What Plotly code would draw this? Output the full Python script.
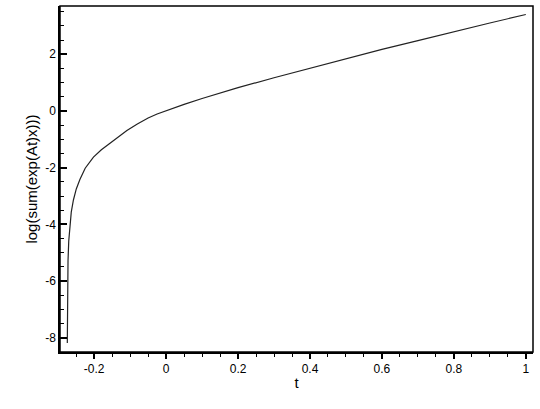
"""Line chart of log(sum(exp(At)x)) against t."""

import plotly.graph_objects as go

t_values = [
    -0.2747, -0.2745, -0.2742, -0.2737, -0.2727, -0.2707, -0.2677, -0.2637,
    -0.2577, -0.2497, -0.2397, -0.225, -0.202, -0.18, -0.156, -0.13, -0.109,
    -0.08, -0.05, -0.025, 0.0, 0.05, 0.1, 0.15, 0.2, 0.3, 0.4, 0.5, 0.6, 0.7,
    0.8, 0.9, 1.0,
]
log_values = [
    -8.18, -7.58, -6.66, -5.97, -5.28, -4.59, -4.03, -3.57,
    -3.14, -2.75, -2.42, -2.02, -1.63, -1.37, -1.14, -0.90, -0.69,
    -0.46, -0.25, -0.11, 0.01, 0.23, 0.44, 0.63, 0.82, 1.17, 1.51, 1.84, 2.17, 2.48,
    2.80, 3.10, 3.40,
]

x_tickvals = [-0.2, 0, 0.2, 0.4, 0.6, 0.8, 1]
x_ticktext = ["-0.2", "0", "0.2", "0.4", "0.6", "0.8", "1"]
y_tickvals = [-8, -6, -4, -2, 0, 2]
y_ticktext = ["-8", "-6", "-4", "-2", "0", "2"]

font_family = "Liberation Sans, Arial, Helvetica, sans-serif"

fig = go.Figure()
fig.add_trace(go.Scatter(
    x=t_values, y=log_values, mode="lines",
    line={"color": "#222222", "width": 1.2},
    showlegend=False,
))

# inside ticks on x did not render here, so x gets short outside ticks;
# mirror=True also hid the y ticks, so a frame shape closes the box instead
fig.update_xaxes(
    range=[-0.295, 1.02], tickmode="array", tickvals=x_tickvals, ticktext=x_ticktext,
    showgrid=False, zeroline=False, showline=True, linecolor="black", linewidth=1.5,
    ticks="outside", ticklen=5, tickwidth=1.5, tickcolor="black",
    minor={"tickvals": [v / 20 for v in range(-5, 21)], "ticks": "outside", "ticklen": 3,
           "tickwidth": 1, "tickcolor": "black"},
    automargin=False, tickfont={"size": 12, "color": "black", "family": font_family},
    title={"text": "t", "font": {"size": 15, "color": "black", "family": font_family}, "standoff": 2},
)
fig.update_yaxes(
    range=[-8.5, 3.7], tickmode="array", tickvals=y_tickvals, ticktext=y_ticktext,
    showgrid=False, zeroline=False, showline=True, linecolor="black", linewidth=1.5,
    ticks="inside", ticklen=7, tickwidth=1.5, tickcolor="black",
    minor={"tickvals": [v / 2 for v in range(-16, 8)], "ticks": "inside", "ticklen": 4,
           "tickwidth": 1, "tickcolor": "black"},
    automargin=False, tickfont={"size": 12, "color": "black", "family": font_family},
    title={"text": "log(sum(exp(At)x)))", "font": {"size": 15, "color": "black", "family": font_family}, "standoff": 4},
)

fig.add_shape(type="rect", xref="paper", yref="paper", x0=0, x1=1, y0=0, y1=1,
              line={"color": "black", "width": 1.5}, layer="above")

fig.update_layout(
    width=540, height=409,
    margin={"l": 60, "r": 7, "t": 6, "b": 57},
    plot_bgcolor="white", paper_bgcolor="white",
    font={"family": font_family},
)

fig.write_html("out.html", config={"displayModeBar": False},
               post_script="document.body.style.margin = '0';")
